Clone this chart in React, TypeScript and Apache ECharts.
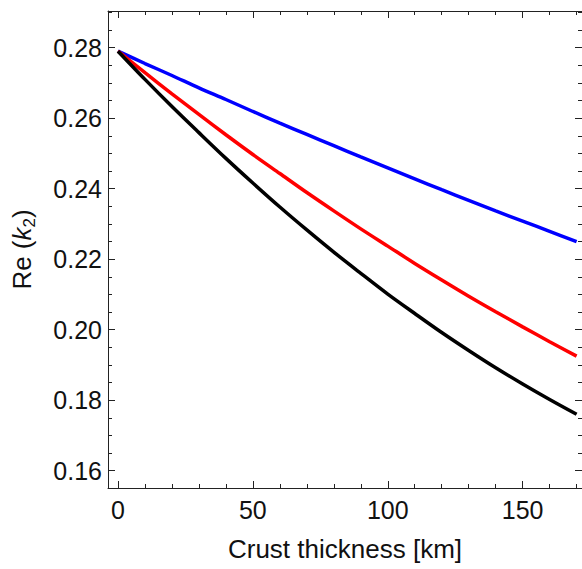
import React, { useEffect, useRef } from "react";
import * as echarts from "echarts";

const thickness = [0, 10, 20, 30, 40, 50, 60, 70, 80, 90, 100, 110, 120, 130, 140, 150, 160, 170];
const blueK2 = [0.2790, 0.2755, 0.2721, 0.2686, 0.2653, 0.2619, 0.2586, 0.2554, 0.2522, 0.2490, 0.2459, 0.2428, 0.2397, 0.2367, 0.2337, 0.2308, 0.2279, 0.2250];
const redK2 = [0.2790, 0.2729, 0.2669, 0.2611, 0.2553, 0.2497, 0.2443, 0.2389, 0.2337, 0.2286, 0.2237, 0.2188, 0.2141, 0.2095, 0.2051, 0.2008, 0.1966, 0.1925];
const blackK2 = [0.2790, 0.2710, 0.2633, 0.2559, 0.2486, 0.2416, 0.2348, 0.2283, 0.2220, 0.2160, 0.2101, 0.2046, 0.1992, 0.1941, 0.1892, 0.1846, 0.1802, 0.1760];

const xMajor = [0, 50, 100, 150];
const xMinor = [10, 20, 30, 40, 60, 70, 80, 90, 110, 120, 130, 140, 160, 170];
const yMajor = [0.16, 0.18, 0.2, 0.22, 0.24, 0.26, 0.28];
const yMinor = [0.165, 0.17, 0.175, 0.185, 0.19, 0.195, 0.205, 0.21, 0.215, 0.225, 0.23, 0.235, 0.245, 0.25, 0.255, 0.265, 0.27, 0.275, 0.285, 0.29];

const X_MIN = -3.7;
const X_MAX = 172;
const Y_MIN = 0.1551;
const Y_MAX = 0.2904;

const FONT = "Liberation Sans, Arial, sans-serif";
const AX = "#222";

function makeX(position: "top" | "bottom", ticks: number[], len: number, labels: boolean, line: boolean, extra: any = {}) {
  return {
    type: "value",
    position,
    min: X_MIN,
    max: X_MAX,
    axisLine: { show: line, onZero: false, lineStyle: { color: AX, width: 1 } },
    axisTick: { show: true, inside: true, length: len, customValues: ticks, lineStyle: { color: AX, width: 1 } },
    axisLabel: labels
      ? { show: true, customValues: ticks, color: "#111", fontSize: 25, fontFamily: FONT, margin: 9 }
      : { show: false },
    splitLine: { show: false },
    ...extra,
  };
}

function makeY(position: "left" | "right", ticks: number[], len: number, labels: boolean, line: boolean, extra: any = {}) {
  return {
    type: "value",
    position,
    min: Y_MIN,
    max: Y_MAX,
    axisLine: { show: line, onZero: false, lineStyle: { color: AX, width: 1 } },
    axisTick: { show: true, inside: true, length: len, customValues: ticks, lineStyle: { color: AX, width: 1 } },
    axisLabel: labels
      ? {
          show: true,
          customValues: ticks,
          color: "#111",
          fontSize: 25,
          fontFamily: FONT,
          margin: 6,
          formatter: (v: number) => v.toFixed(2),
        }
      : { show: false },
    splitLine: { show: false },
    ...extra,
  };
}

export default function App() {
  const ref = useRef<HTMLDivElement>(null);
  useEffect(() => {
    if (!ref.current) return;
    const chart = echarts.init(ref.current, undefined, { renderer: "svg" });
    const mk = (ys: number[]) => thickness.map((x, i) => [x, ys[i]]);
    chart.setOption({
      animation: false,
      backgroundColor: "#fff",
      grid: { left: 108, top: 11, width: 474, height: 477, containLabel: false },
      xAxis: [
        makeX("bottom", xMajor, 7, true, true, {
          name: "Crust thickness [km]",
          nameLocation: "middle",
          nameGap: 48,
          nameTextStyle: { fontSize: 26, fontFamily: FONT, color: "#111" },
        }),
        makeX("bottom", xMinor, 4, false, false),
        makeX("top", xMajor, 7, false, true),
        makeX("top", xMinor, 4, false, false),
      ],
      yAxis: [
        makeY("left", yMajor, 7, true, true, {
          name: "{a|Re (}{b|k}{c|2}{a|)}",
          nameLocation: "middle",
          nameGap: 70,
          nameTextStyle: {
            fontFamily: FONT,
            color: "#111",
            rich: {
              a: { fontSize: 26, fontFamily: FONT, color: "#111", lineHeight: 32, verticalAlign: "middle" },
              b: { fontSize: 26, fontFamily: FONT, fontStyle: "italic", color: "#111", lineHeight: 32, verticalAlign: "middle" },
              c: { fontSize: 17, fontFamily: FONT, color: "#111", lineHeight: 32, verticalAlign: "bottom", padding: [10, 0, 0, 0] },
            },
          },
        }),
        makeY("left", yMinor, 4, false, false),
        makeY("right", yMajor, 7, false, true),
        makeY("right", yMinor, 4, false, false),
      ],
      series: [
        { type: "line", name: "blue", data: mk(blueK2), xAxisIndex: 0, yAxisIndex: 0, showSymbol: false, smooth: 0.3, lineStyle: { color: "#0000ff", width: 3.5 } },
        { type: "line", name: "red", data: mk(redK2), xAxisIndex: 0, yAxisIndex: 0, showSymbol: false, smooth: 0.3, lineStyle: { color: "#ff0000", width: 3.5 } },
        { type: "line", name: "black", data: mk(blackK2), xAxisIndex: 0, yAxisIndex: 0, showSymbol: false, smooth: 0.3, lineStyle: { color: "#000000", width: 3.5 } },
      ],
    });
    return () => chart.dispose();
  }, []);
  return <div ref={ref} style={{ position: "fixed", left: 0, top: 0, width: 582, height: 569 }} />;
}
